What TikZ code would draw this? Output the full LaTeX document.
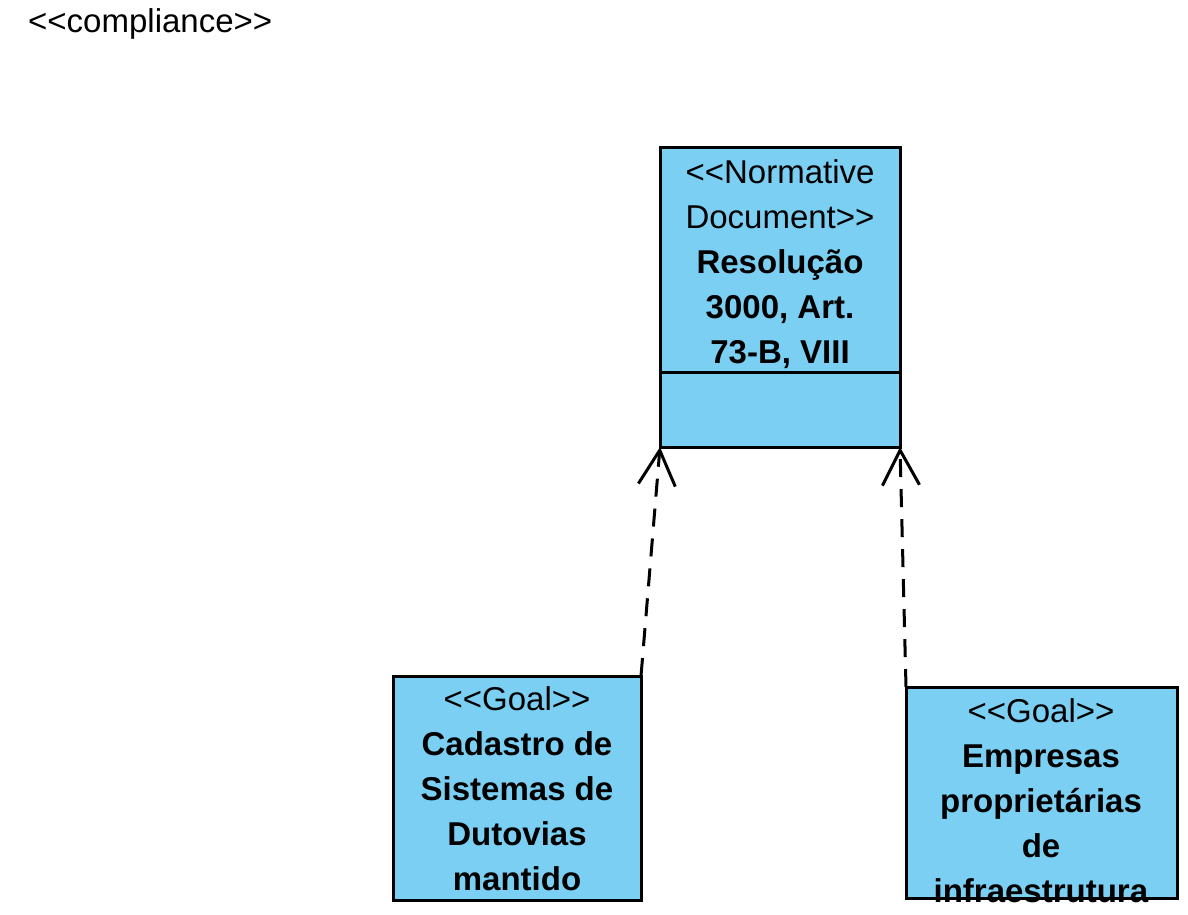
\documentclass[tikz,border=0pt]{standalone}
\usepackage{fontspec}
\setmainfont{Liberation Sans}
\usetikzlibrary{arrows.meta}
\definecolor{boxblue}{RGB}{122,207,243}
\newcommand\lguil{<\kern0pt<}
\newcommand\rguil{>\kern0pt>}
\begin{document}
\begin{tikzpicture}[x=1pt,y=-1pt,
  umlbox/.style={draw=black, fill=boxblue, line width=3pt, inner sep=0pt, outer sep=0pt, anchor=north west},
  txt/.style={font=\fontsize{33}{45}\selectfont, align=center, inner sep=0pt, anchor=north},
  dep/.style={line width=3pt, dash pattern=on 18pt off 12pt,
    -{Straight Barb[length=35pt,width=37pt,line width=3pt]}}]
\useasboundingbox (0,0) rectangle (1188,915);
\node[font=\fontsize{33}{45}\selectfont, inner sep=0pt, anchor=base west] (title) at (28,33) {\lguil compliance\rguil};
% boxes
\node[umlbox, minimum width=240pt, minimum height=300pt] (doc) at (660,147) {};
\draw[line width=3pt] (doc.west |- 0,372) -- (doc.east |- 0,372);
\node[umlbox, minimum width=248pt, minimum height=224pt] (goalA) at (393,676) {};
\node[umlbox, minimum width=271pt, minimum height=211pt] (goalB) at (906,687) {};
% texts
\node[txt] (doctext) at (780,154) {\rule{0pt}{29pt}\lguil Normative\\Document\rguil\\\textbf{Resolução}\\\textbf{3000, Art.}\\\textbf{73-B, VIII}};
\node[txt] (goalAtext) at (517,681) {\rule{0pt}{29pt}\lguil Goal\rguil\\\textbf{Cadastro de}\\\textbf{Sistemas de}\\\textbf{Dutovias}\\\textbf{mantido}};
\node[txt] (goalBtext) at (1041,693) {\rule{0pt}{29pt}\lguil Goal\rguil\\\textbf{Empresas}\\\textbf{proprietárias}\\\textbf{de}\\\textbf{infraestrutura}};
% connectors
\draw[dep] (goalA.north east) -- (doc.south west);
\draw[dep] (goalB.north west) -- (doc.south east);
\end{tikzpicture}
\end{document}
